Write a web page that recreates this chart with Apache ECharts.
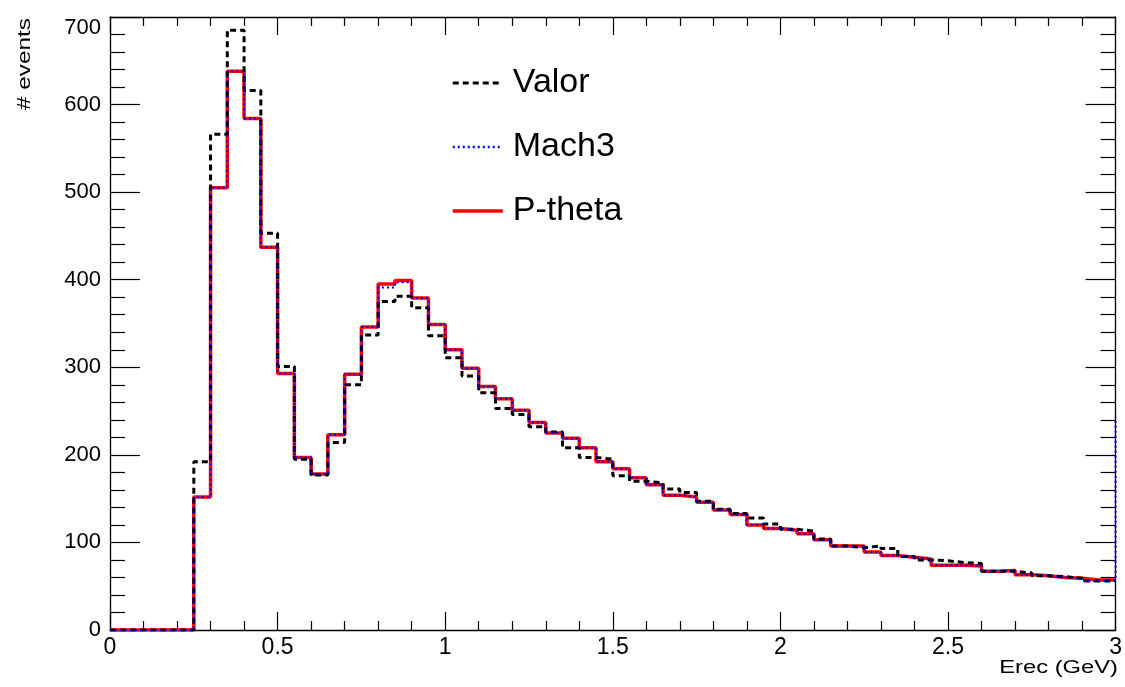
<!DOCTYPE html>
<html>
<head>
<meta charset="utf-8">
<script src="https://cdn.jsdelivr.net/npm/echarts@6/dist/echarts.min.js"></script>
<style>
html,body{margin:0;padding:0;background:#fff;}
#c{width:1125px;height:687px;}
</style>
</head>
<body>
<div id="c"></div>
<script>
// Histogram binning: 60 bins of width 0.05 GeV from 0 to 3
var binStart = 0;
var binWidth = 0.05;
var xTicks = ['0', '0.5', '1', '1.5', '2', '2.5', '3'];
var yTicks = [0, 100, 200, 300, 400, 500, 600, 700];

var valor = [0, 0, 0, 0, 0,
  192, 566, 685, 616, 453, 301, 195, 177, 214, 280,
  337, 375, 381, 368, 336, 311, 290, 271, 253, 246,
  232, 226, 208, 197, 195, 176, 170, 168, 161, 157,
  147, 138, 133, 128, 121, 115, 113, 104, 96, 94,
  96, 93, 84, 80, 79, 77, 76, 67, 67, 65,
  62, 61, 59, 56, 56];

var mach3 = [0, 0, 0, 0, 0,
  152, 505, 638, 584, 437, 293, 197, 178, 223, 292,
  346, 391, 397, 379, 349, 320, 299, 278, 264, 251,
  237, 225, 219, 208, 192, 184, 174, 166, 154, 152,
  146, 137, 132, 120, 116, 114, 110, 103, 96, 96,
  89, 85, 83, 81, 74, 74, 73, 67, 68, 63,
  62, 60, 59, 56, 57];
var mach3Overflow = 243;

var ptheta = [0, 0, 0, 0, 0,
  152, 505, 638, 584, 437, 293, 197, 178, 223, 292,
  346, 395, 399, 379, 349, 320, 299, 278, 264, 251,
  237, 225, 219, 208, 192, 184, 174, 166, 154, 152,
  146, 137, 132, 120, 116, 114, 110, 103, 96, 96,
  89, 85, 83, 81, 74, 74, 73, 67, 68, 63,
  62, 60, 59, 57, 57];

function steps(vals, overflow) {
  var pts = [];
  for (var i = 0; i < vals.length; i++) {
    var lo = +(binStart + i * binWidth).toFixed(4);
    var hi = +(binStart + (i + 1) * binWidth).toFixed(4);
    pts.push([lo, vals[i]]);
    pts.push([hi, vals[i]]);
  }
  if (overflow !== undefined) {
    pts.push([pts[pts.length - 1][0], overflow]);
  }
  return pts;
}

var FONT = '"Liberation Sans", Arial, Helvetica, sans-serif';
var chart = echarts.init(document.getElementById('c'), null, {renderer: 'canvas'});

function axisCommon(isX, showLabel) {
  return {
    type: 'value',
    min: 0,
    max: isX ? 3 : 700,
    interval: isX ? 0.5 : 100,
    axisLine: {show: true, onZero: false, lineStyle: {color: '#000', width: 1.3}},
    axisTick: {show: true, inside: true, length: isX ? 18 : 30, lineStyle: {color: '#000', width: 1.2}},
    minorTick: {show: true, splitNumber: 5, length: isX ? 9 : 15, lineStyle: {color: '#000', width: 1.2}},
    splitLine: {show: false},
    minorSplitLine: {show: false},
    axisLabel: {
      show: showLabel,
      color: '#000',
      fontFamily: FONT,
      fontSize: isX ? 23 : 22,
      margin: isX ? 6 : 9,
      verticalAlignMaxLabel: isX ? null : 'top',
      formatter: function (v) {
        return isX ? xTicks[Math.round(v / 0.5)] : String(yTicks[Math.round(v / 100)]);
      }
    }
  };
}

var xBottom = axisCommon(true, true); xBottom.position = 'bottom';
var xTop = axisCommon(true, false); xTop.position = 'top';
var yLeft = axisCommon(false, true); yLeft.position = 'left';
var yRight = axisCommon(false, false); yRight.position = 'right';

var option = {
  backgroundColor: '#fff',
  animation: false,
  grid: {left: 110, right: 5, top: 17, bottom: 57, containLabel: false},
  xAxis: [xBottom, xTop],
  yAxis: [yLeft, yRight],
  legend: {
    show: true,
    orient: 'vertical',
    left: 451,
    top: 63,
    padding: 0,
    itemWidth: 50,
    itemHeight: 14,
    itemGap: 24,
    itemStyle: {opacity: 0},
    data: [
      {name: 'Valor', lineStyle: {width: 3}},
      {name: 'Mach3', lineStyle: {width: 2.5}},
      {name: 'P-theta', lineStyle: {width: 3.5}}
    ],
    textStyle: {color: '#000', fontFamily: FONT, fontSize: 34, lineHeight: 40, padding: [0, 0, 0, 5]}
  },
  series: [
    {
      name: 'P-theta', type: 'line', xAxisIndex: 0, yAxisIndex: 0,
      data: steps(ptheta), symbol: 'none', showSymbol: false,
      lineStyle: {color: '#ff0000', width: 3.5, type: 'solid'},
      itemStyle: {color: '#ff0000'}, z: 2
    },
    {
      name: 'Valor', type: 'line', xAxisIndex: 0, yAxisIndex: 0,
      data: steps(valor), symbol: 'none', showSymbol: false,
      lineStyle: {color: '#000000', width: 3, type: [6, 4]},
      itemStyle: {color: '#000000'}, z: 3
    },
    {
      name: 'Mach3', type: 'line', xAxisIndex: 0, yAxisIndex: 0,
      data: steps(mach3, mach3Overflow), symbol: 'none', showSymbol: false,
      lineStyle: {color: '#0000ff', width: 2, type: [2, 3]},
      itemStyle: {color: '#0000ff'}, z: 4
    }
  ],
  graphic: [
    {
      type: 'text', x: 1118, y: 668, scaleX: 1.25,
      style: {text: 'Erec (GeV)', fill: '#000', fontFamily: FONT, fontSize: 19, textAlign: 'right', textVerticalAlign: 'middle'}
    },
    {
      type: 'text', x: 25, y: 18, rotation: Math.PI / 2, scaleX: 1.28,
      style: {text: '# events', fill: '#000', fontFamily: FONT, fontSize: 19, textAlign: 'right', textVerticalAlign: 'middle'}
    }
  ]
};
chart.setOption(option);
</script>
</body>
</html>
